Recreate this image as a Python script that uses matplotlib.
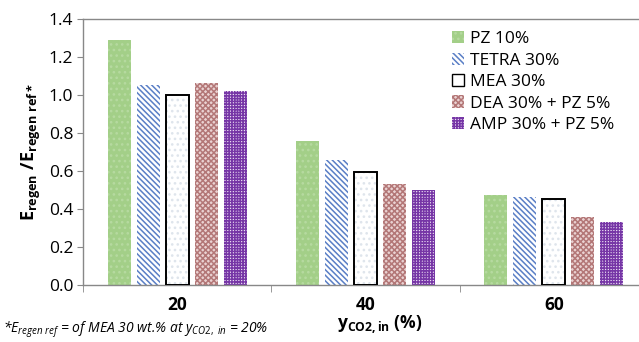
import matplotlib
matplotlib.use("Agg")
import matplotlib.pyplot as plt
import numpy as np
from matplotlib.patches import Patch

# data
categories = ["20", "40", "60"]
series = ["PZ 10%", "TETRA 30%", "MEA 30%", "DEA 30% + PZ 5%", "AMP 30% + PZ 5%"]
pz = [1.29, 0.76, 0.475]
tetra = [1.055, 0.66, 0.465]
mea = [1.00, 0.595, 0.45]
dea = [1.065, 0.53, 0.36]
amp = [1.02, 0.50, 0.33]
values = [pz, tetra, mea, dea, amp]

# style per series: face, hatch, hatch colour, outline
styles = [
    ("#a3cf88", "...", "#b6daa0", None),
    ("white", "\\\\\\\\\\\\", "#5a7fc6", None),
    ("white", "...", "#dfe5ec", "black"),
    ("#ead2d2", "xxxxxx", "#b37777", None),
    ("#efe2f6", "++++++", "#7636a6", None),
]

plt.rcParams["font.family"] = ["Open Sans", "DejaVu Sans"]
plt.rcParams["mathtext.fontset"] = "custom"
plt.rcParams["mathtext.rm"] = "Open Sans"
plt.rcParams["mathtext.it"] = "Open Sans:italic"
plt.rcParams["mathtext.bf"] = "Open Sans:bold"
plt.rcParams["hatch.linewidth"] = 1.1

fig = plt.figure(figsize=(6.39, 3.42), dpi=100)
ax = fig.add_axes([0.130, 0.1667, 0.884, 0.7777])

x = np.arange(len(categories))
width = 0.122
step = 0.154
for i, (name, vals) in enumerate(zip(series, values)):
    face, hatch, hcol, edge = styles[i]
    pos = x + (i - 2) * step
    ax.bar(pos, vals, width, color=face, hatch=hatch, edgecolor=hcol, linewidth=0, zorder=2)
    if edge:
        ax.bar(pos, vals, width, fill=False, edgecolor=edge, linewidth=1.4, zorder=3)

ax.set_xlim(-0.5, 2.5)
ax.set_ylim(0, 1.4)
yt = np.arange(0, 1.41, 0.2)
ax.set_yticks(yt)
ax.set_yticklabels([f"{v:.1f}" for v in yt], fontsize=12.5)
ax.set_xticks(x)
ax.set_xticklabels(categories, fontsize=12.5, fontweight="bold")
ax.set_xticks([-0.5, 0.5, 1.5, 2.5], minor=True)
ax.tick_params(axis="x", which="major", length=0, pad=8)
ax.tick_params(axis="x", which="minor", length=5, direction="out", color="#888888")
ax.tick_params(axis="y", length=4, color="#888888", pad=3)

for s in ["left", "top", "bottom", "right"]:
    ax.spines[s].set_color("#888888")
    ax.spines[s].set_linewidth(1.0)

ax.set_ylabel(r"$\mathbf{E_{regen}\ /E_{regen\ ref*}}$", fontsize=13, labelpad=4)
fig.text(0.595, 0.05, r"$\mathbf{y_{CO2,in}}$ (%)", fontsize=12.5, fontweight="bold",
         ha="center", va="center")
fig.text(0.005, 0.035, r"*$E_{regen\ ref}$ = of MEA 30 wt.% at $y_{CO2,\ in}$ = 20%",
         fontsize=10, style="italic", ha="left", va="center")

handles = []
for i, name in enumerate(series):
    face, hatch, hcol, edge = styles[i]
    if edge:
        handles.append(Patch(facecolor=face, edgecolor=edge, linewidth=1.0, label=name))
    else:
        handles.append(Patch(facecolor=face, hatch=hatch, edgecolor=hcol, linewidth=0, label=name))
ax.legend(handles=handles, loc="upper left", bbox_to_anchor=(0.64, 0.98), frameon=False,
          fontsize=12.5, handlelength=0.7, handleheight=0.7, handletextpad=0.35,
          labelspacing=0.3, borderaxespad=0)

fig.savefig("out.png", dpi=100)
